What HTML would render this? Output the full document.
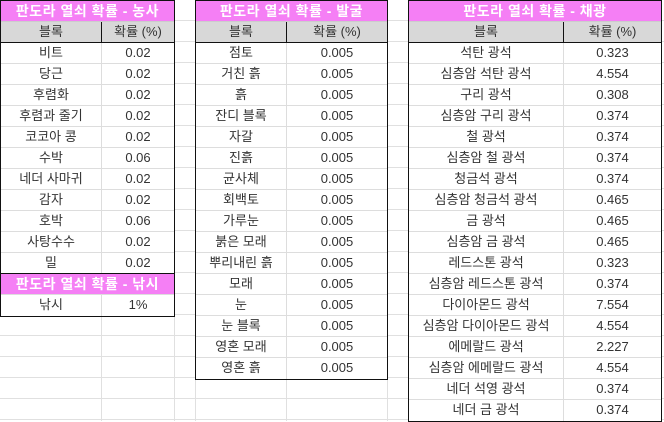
<!DOCTYPE html>
<html><head><meta charset="utf-8">
<style>
html,body{margin:0;padding:0;background:#fff;}
body{width:664px;height:421px;position:relative;overflow:hidden;font-family:"Liberation Sans","Noto Sans CJK KR","NanumGothic",sans-serif;font-size:13px;color:#333;}
.vl{position:absolute;top:0;width:1px;height:421px;background:#e0e0e0;}
.hl{position:absolute;left:0;height:1px;width:664px;background:#e0e0e0;}
.tbl{position:absolute;box-sizing:border-box;border:1px solid #111;background:#fff;}
.row{position:relative;height:21px;box-sizing:border-box;border-bottom:1px solid #ddd;display:flex;}
.row:last-child{border-bottom:none;}
.cell{box-sizing:border-box;text-align:center;line-height:20px;white-space:nowrap;overflow:hidden;}
.title{background:#f57ff5;color:#fff;font-weight:bold;font-size:14px;justify-content:center;line-height:20px;border-bottom:1px solid #ccc;letter-spacing:0.5px;}
.hdr{background:#d8d8d8;border-bottom:1px solid #111;}
.hdr .c1{border-right:1px solid #111;}
.c1{border-right:1px solid #ddd;}
</style></head><body>
<div id="grid"></div>
<script>
const colX=[101,174,195,286,387,408,563,661];
const farmNames=["비트","당근","후렴화","후렴과 줄기","코코아 콩","수박","네더 사마귀","감자","호박","사탕수수","밀"];
const farmVals=["0.02","0.02","0.02","0.02","0.02","0.06","0.02","0.02","0.06","0.02","0.02"];
const digNames=["점토","거친 흙","흙","잔디 블록","자갈","진흙","균사체","회백토","가루눈","붉은 모래","뿌리내린 흙","모래","눈","눈 블록","영혼 모래","영혼 흙"];
const digVals=["0.005","0.005","0.005","0.005","0.005","0.005","0.005","0.005","0.005","0.005","0.005","0.005","0.005","0.005","0.005","0.005"];
const mineNames=["석탄 광석","심층암 석탄 광석","구리 광석","심층암 구리 광석","철 광석","심층암 철 광석","청금석 광석","심층암 청금석 광석","금 광석","심층암 금 광석","레드스톤 광석","심층암 레드스톤 광석","다이아몬드 광석","심층암 다이아몬드 광석","에메랄드 광석","심층암 에메랄드 광석","네더 석영 광석","네더 금 광석"];
const mineVals=["0.323","4.554","0.308","0.374","0.374","0.374","0.374","0.465","0.465","0.465","0.323","0.374","7.554","4.554","2.227","4.554","0.374","0.374"];

const grid=document.getElementById('grid');
colX.forEach(x=>{const d=document.createElement('div');d.className='vl';d.style.left=x+'px';


grid.appendChild(d);});
for(let y=20;y<421;y+=21){const d=document.createElement('div');d.className='hl';d.style.top=y+'px';


grid.appendChild(d);}

function addTitle(t,text,name){
 const r=document.createElement('div');r.className='row title';r.textContent=text;
 
 
 t.appendChild(r);
}
function addRow(t,a,b,w1,cls,name){
 const r=document.createElement('div');r.className='row'+(cls?' '+cls:'');
 
 
 const c1=document.createElement('div');c1.className='cell c1';c1.style.width=w1+'px';c1.textContent=a;
 
 
 const c2=document.createElement('div');c2.className='cell';c2.style.flex='1';c2.textContent=b;
 
 
 r.appendChild(c1);r.appendChild(c2);t.appendChild(r);
}
function makeTable(x,w,w1,name){
 const t=document.createElement('div');t.className='tbl';t.style.left=x+'px';t.style.top='0px';t.style.width=w+'px';
 
 
 document.body.appendChild(t);return t;
}
const t1=makeTable(0,175,101,'farming-table');
addTitle(t1,'판도라 열쇠 확률 - 농사','farming-title');
addRow(t1,'블록','확률 (%)',101,'hdr','farming-header');
farmNames.forEach((n,i)=>addRow(t1,n,farmVals[i],101,'','farming-row'));
const last=t1.lastChild;last.style.borderBottom='1px solid #111';
addTitle(t1,'판도라 열쇠 확률 - 낚시','fishing-title');
t1.lastChild.style.borderBottom='1px solid #ddd';
addRow(t1,'낚시','1%',101,'','fishing-row');

const t2=makeTable(195,193,91,'digging-table');
addTitle(t2,'판도라 열쇠 확률 - 발굴','digging-title');
addRow(t2,'블록','확률 (%)',91,'hdr','digging-header');
digNames.forEach((n,i)=>addRow(t2,n,digVals[i],91,'','digging-row'));

const t3=makeTable(408,254,155,'mining-table');
addTitle(t3,'판도라 열쇠 확률 - 채광','mining-title');
addRow(t3,'블록','확률 (%)',155,'hdr','mining-header');
mineNames.forEach((n,i)=>addRow(t3,n,mineVals[i],155,'','mining-row'));
</script>
</body></html>
